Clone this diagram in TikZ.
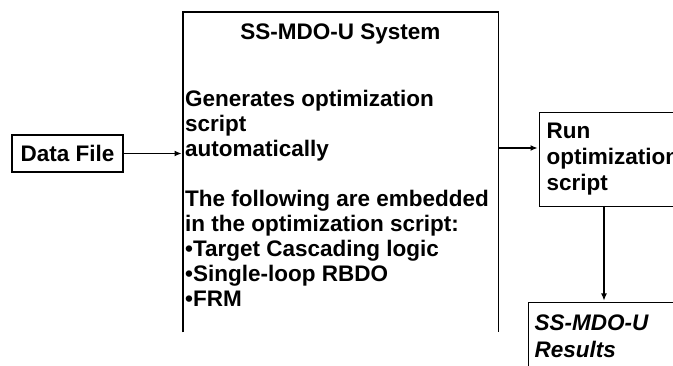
\documentclass[tikz,border=0pt]{standalone}
\usepackage{fontspec}
\setmainfont{Liberation Sans}
\usetikzlibrary{arrows.meta}
\begin{document}
\begin{tikzpicture}[x=1pt,y=-1pt,
  every node/.style={font=\bfseries\fontsize{22.5}{25}\selectfont},
  line/.style={line width=1.1pt,black},
  arr/.style={line, -{Latex[length=7pt,width=6pt]}, shorten >=1.5pt},
  boxed/.style={draw,line width=1.1pt}]
\clip (0,0) rectangle (673,366);
\fill[white] (0,0) rectangle (673,366);
% Data file
\node[boxed, minimum width=111pt, minimum height=37pt, inner sep=0pt] (df) at (67.5,153.5) {Data File};
% main system box (bottom cut)
\node[minimum width=315pt, minimum height=320pt, anchor=north west, inner sep=0pt] (sys) at (183,12) {};
\draw[line] (sys.south west) -- (sys.north west) -- (sys.north east) -- (sys.south east);
\node[anchor=base, inner sep=0pt] (title) at (340.5,40) {SS-MDO-U System};
\node[anchor=north west, inner sep=0pt, align=left] (body) at (185,89.6)
  {Generates optimization\\script\\automatically\\[25pt]The following are embedded\\in the optimization script:\\•Target Cascading logic\\•Single-loop RBDO\\•FRM};
% Run box
\node[boxed, anchor=north west, minimum height=94pt, text width=167pt, inner xsep=7pt, inner ysep=0pt, align=left,
  font=\bfseries\fontsize{22.5}{26}\selectfont] (run) at (539,112) {Run\\optimization\\script};
% Results box
\node[boxed, anchor=north west, text width=200pt, inner xsep=6pt, inner ysep=12.6pt, align=left,
  font=\bfseries\itshape\fontsize{22.5}{27}\selectfont] (res) at (528,302) {SS-MDO-U\\Results};
% connectors
\draw[arr] (df.east) -- (df.east -| sys.west);
\coordinate (m) at (498,148);
\draw[arr] (m) -- (m -| run.west);
\coordinate (d) at (604,206);
\draw[arr] (d) -- (d |- res.north);
\end{tikzpicture}
\end{document}
